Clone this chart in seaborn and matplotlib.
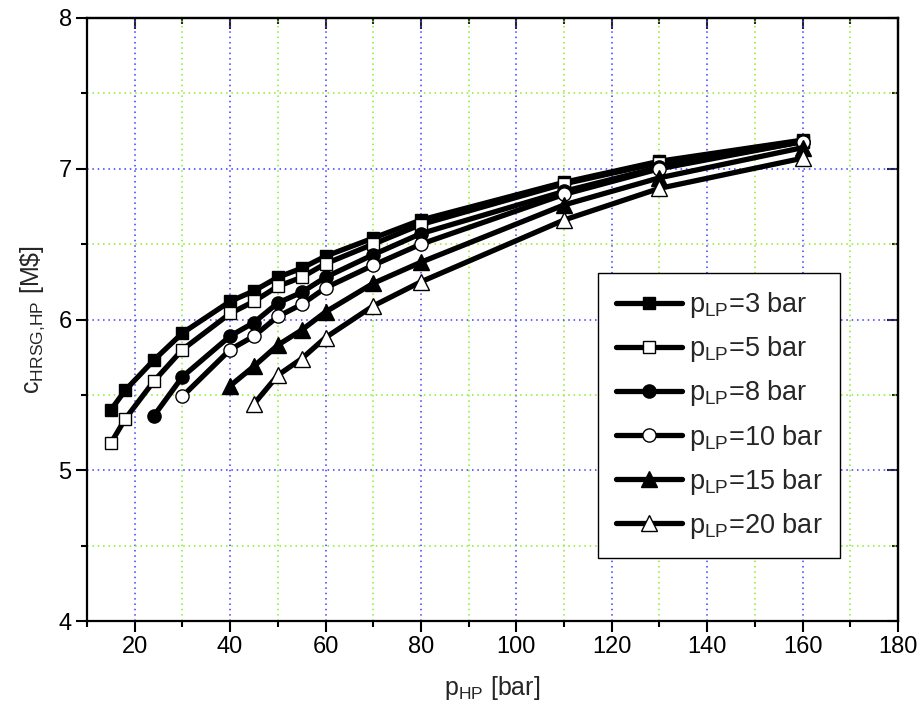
import matplotlib
matplotlib.use("Agg")
import matplotlib.pyplot as plt
import seaborn as sns
import pandas as pd
from matplotlib.ticker import MultipleLocator

# ---- data ----
p_hp_3 = [15, 18, 24, 30, 40, 45, 50, 55, 60, 70, 80, 110, 130, 160]
c_3 = [5.40, 5.53, 5.73, 5.91, 6.12, 6.19, 6.28, 6.34, 6.42, 6.54, 6.66, 6.91, 7.05, 7.19]

p_hp_5 = [15, 18, 24, 30, 40, 45, 50, 55, 60, 70, 80, 110, 130, 160]
c_5 = [5.18, 5.34, 5.59, 5.80, 6.04, 6.12, 6.22, 6.28, 6.37, 6.50, 6.63, 6.90, 7.04, 7.18]

p_hp_8 = [24, 30, 40, 45, 50, 55, 60, 70, 80, 110, 130, 160]
c_8 = [5.36, 5.62, 5.89, 5.98, 6.11, 6.18, 6.28, 6.43, 6.57, 6.85, 7.01, 7.18]

p_hp_10 = [30, 40, 45, 50, 55, 60, 70, 80, 110, 130, 160]
c_10 = [5.49, 5.80, 5.89, 6.02, 6.10, 6.21, 6.36, 6.50, 6.83, 7.00, 7.18]

p_hp_15 = [40, 45, 50, 55, 60, 70, 80, 110, 130, 160]
c_15 = [5.56, 5.69, 5.83, 5.93, 6.05, 6.24, 6.38, 6.76, 6.94, 7.14]

p_hp_20 = [45, 50, 55, 60, 70, 80, 110, 130, 160]
c_20 = [5.44, 5.63, 5.74, 5.88, 6.09, 6.25, 6.66, 6.87, 7.07]

p_lp_labels = ["3", "5", "8", "10", "15", "20"]

series = [
    (p_hp_3, c_3, "s", "black", 8.5),
    (p_hp_5, c_5, "s", "white", 8.5),
    (p_hp_8, c_8, "o", "black", 9.5),
    (p_hp_10, c_10, "o", "white", 9.5),
    (p_hp_15, c_15, "^", "black", 11),
    (p_hp_20, c_20, "^", "white", 11),
]

sns.set_style("ticks")
plt.rcParams["font.family"] = ["Liberation Sans", "DejaVu Sans"]
plt.rcParams["mathtext.fontset"] = "custom"
plt.rcParams["mathtext.rm"] = "Liberation Sans"
plt.rcParams["mathtext.it"] = "Liberation Sans:italic"

fig = plt.figure(figsize=(9.2, 7.16), dpi=100)
ax = fig.add_axes([87 / 920, 1 - 621 / 716, (898 - 87) / 920, (621 - 18) / 716])

for (xs, ys, mk, fc, ms), lab in zip(series, p_lp_labels):
    df = pd.DataFrame({"p_HP": xs, "c": ys})
    sns.lineplot(data=df, x="p_HP", y="c", ax=ax, color="black", linewidth=3.8,
                 marker=mk, markersize=ms, markerfacecolor=fc,
                 markeredgecolor="black", markeredgewidth=1.0,
                 label=r"$\mathregular{p_{LP}}$=" + lab + " bar", zorder=3)

ax.set_xlim(10, 180)
ax.set_ylim(4, 8)
ax.xaxis.set_major_locator(MultipleLocator(20))
ax.xaxis.set_minor_locator(MultipleLocator(10))
ax.yaxis.set_major_locator(MultipleLocator(1))
ax.yaxis.set_minor_locator(MultipleLocator(0.5))

ax.grid(which="major", color="#3a3aff", linestyle=(0, (1, 2.5)), linewidth=1.1)
ax.grid(which="minor", color="#88ee22", linestyle=(0, (1, 2.5)), linewidth=1.1)
ax.set_axisbelow(True)

for s in ax.spines.values():
    s.set_visible(True)
    s.set_linewidth(1.6)
    s.set_color("black")

ax.tick_params(which="both", direction="out", width=1.5, colors="black",
               top=False, right=False)
ax.tick_params(which="major", length=8, labelsize=17, pad=3)
ax.tick_params(which="minor", length=4.5)

# top/right ticks inward
ax2 = ax.secondary_xaxis("top")
ax2.xaxis.set_major_locator(MultipleLocator(20))
ax2.xaxis.set_minor_locator(MultipleLocator(10))
ax2.tick_params(which="both", direction="in", width=1.5, labeltop=False)
ax2.tick_params(which="major", length=8)
ax2.tick_params(which="minor", length=4.5)
ax2.spines["top"].set_linewidth(1.6)
ay2 = ax.secondary_yaxis("right")
ay2.yaxis.set_major_locator(MultipleLocator(1))
ay2.yaxis.set_minor_locator(MultipleLocator(0.5))
ay2.tick_params(which="both", direction="in", width=1.5, labelright=False)
ay2.tick_params(which="major", length=8)
ay2.tick_params(which="minor", length=4.5)
ay2.spines["right"].set_linewidth(1.6)

ax.set_xlabel(r"$\mathregular{p_{HP}}$ [bar]", fontsize=18, labelpad=11)
ax.set_ylabel(r"$\mathregular{c_{HRSG{,}HP}}$ [M\$]", fontsize=18, labelpad=8)

leg = ax.legend(loc="upper left", bbox_to_anchor=(598 / 920, 1 - 272.7 / 716),
                bbox_transform=fig.transFigure, fontsize=19.5, frameon=True,
                fancybox=False, framealpha=1, edgecolor="black",
                handlelength=2.45, handletextpad=0.25, labelspacing=0.52,
                borderpad=0.65, borderaxespad=0)
leg.get_frame().set_linewidth(1.0)
leg.set_zorder(10)

fig.savefig("out.png", dpi=100)
